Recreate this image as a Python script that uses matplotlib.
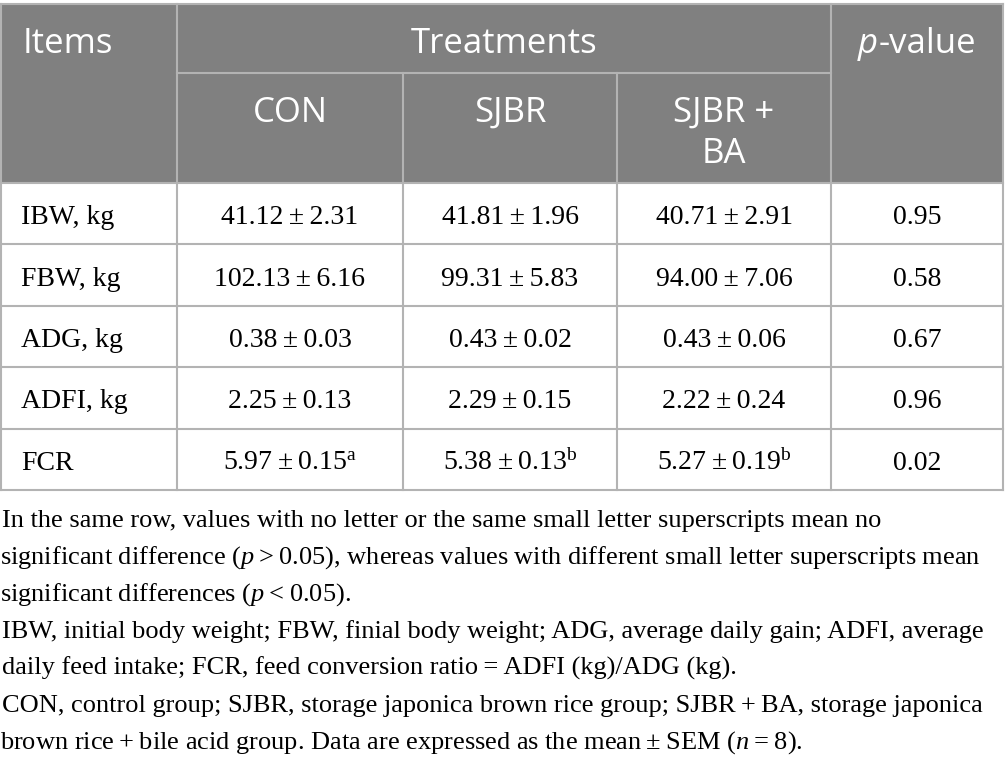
import numpy as np
import matplotlib
matplotlib.use("Agg")
import matplotlib.pyplot as plt
from matplotlib.patches import Rectangle

plt.rcParams['mathtext.fontset'] = 'custom'
plt.rcParams['mathtext.rm'] = 'Liberation Serif'
plt.rcParams['mathtext.it'] = 'Liberation Serif:italic'

# %% data
items      = ["IBW, kg", "FBW, kg", "ADG, kg", "ADFI, kg", "FCR"]
groups     = ["CON", "SJBR", "SJBR +\nBA"]
con_mean   = [41.12, 102.13, 0.38, 2.25, 5.97]
con_sem    = [2.31, 6.16, 0.03, 0.13, 0.15]
con_sup    = ["", "", "", "", "a"]
sjbr_mean  = [41.81, 99.31, 0.43, 2.29, 5.38]
sjbr_sem   = [1.96, 5.83, 0.02, 0.15, 0.13]
sjbr_sup   = ["", "", "", "", "b"]
ba_mean    = [40.71, 94.00, 0.43, 2.22, 5.27]
ba_sem     = [2.91, 7.06, 0.06, 0.24, 0.19]
ba_sup     = ["", "", "", "", "b"]
p_values   = [0.95, 0.58, 0.67, 0.96, 0.02]

notes = [
    "In the same row, values with no letter or the same small letter superscripts mean no",
    "significant difference ($\\mathit{p}$\u2009>\u20090.05), whereas values with different small letter superscripts mean",
    "significant differences ($\\mathit{p}$\u2009<\u20090.05).",
    "IBW, initial body weight; FBW, finial body weight; ADG, average daily gain; ADFI, average",
    "daily feed intake; FCR, feed conversion ratio\u2009=\u2009ADFI (kg)/ADG (kg).",
    "CON, control group; SJBR, storage japonica brown rice group; SJBR\u2009+\u2009BA, storage japonica",
    "brown rice\u2009+\u2009bile acid group. Data are expressed as the mean\u2009\u00b1\u2009SEM ($\\mathit{n}$\u2009=\u20098).",
]

# %% layout (pixels)
W, H = 1005, 767
col_x = [1, 177, 403, 617, 831, 1003]
top, tier, head_bot = 4, 73, 183
row_h = 61.4
n_rows = len(items)
row_y = [head_bot + i * row_h for i in range(n_rows + 1)]

head_bg = '#808080'
line_c = '#b3b3b3'
sans = 'Open Sans'
serif = 'Liberation Serif'

fig = plt.figure(figsize=(W / 100, H / 100), dpi=100)
ax = fig.add_axes([0, 0, 1, 1])
ax.set_xlim(0, W)
ax.set_ylim(H, 0)
ax.axis('off')

# header background
ax.add_patch(Rectangle((0, top), col_x[-1], head_bot - top, color=head_bg, lw=0))

# grid lines
lw = 1.5
ax.plot([0, col_x[-1]], [top, top], color=line_c, lw=lw)
ax.plot([col_x[1], col_x[4]], [tier, tier], color=line_c, lw=lw)
for y in row_y:
    ax.plot([0, col_x[-1]], [y, y], color=line_c, lw=lw)
for x in [col_x[0], col_x[1], col_x[4], col_x[5]]:
    ax.plot([x, x], [top, row_y[-1]], color=line_c, lw=lw)
for x in [col_x[2], col_x[3]]:
    ax.plot([x, x], [tier, row_y[-1]], color=line_c, lw=lw)

# header text
hs = 25
hw = 'normal'
ax.text(23, 53, "Items", fontsize=hs, family=sans, weight=hw, color='white', va='baseline', ha='left')
ax.text((col_x[1] + col_x[4]) / 2, 53, "Treatments", fontsize=hs, family=sans, weight=hw,
        color='white', va='baseline', ha='center')
for i, g in enumerate(groups):
    cx = (col_x[i + 1] + col_x[i + 2]) / 2
    for j, part in enumerate(g.split("\n")):
        ax.text(cx, 122 + 41 * j, part, fontsize=hs, family=sans, weight=hw, color='white',
                va='baseline', ha='center')

# p-value header: italic p + regular rest, centred together
renderer = fig.canvas.get_renderer()
runs = [("p", dict(style='italic')), ("-value", dict())]
txts = [ax.text(0, 53, s, fontsize=hs, family=sans, weight=hw, color='white',
                va='baseline', ha='left', **kw)
        for s, kw in runs]
widths = [t.get_window_extent(renderer).width for t in txts]
cur = (col_x[4] + col_x[5]) / 2 - sum(widths) / 2
for t, w in zip(txts, widths):
    t.set_x(cur)
    cur += w

# body
bs = 20
cols = [(con_mean, con_sem, con_sup), (sjbr_mean, sjbr_sem, sjbr_sup), (ba_mean, ba_sem, ba_sup)]
for r in range(n_rows):
    yb = (row_y[r] + row_y[r + 1]) / 2 + 10.5
    ax.text(21, yb, items[r], fontsize=bs, family=serif, va='baseline', ha='left')
    for c, (m, s, sup) in enumerate(cols):
        cx = (col_x[c + 1] + col_x[c + 2]) / 2
        label = f"{m[r]:.2f}\u2009\u00b1\u2009{s[r]:.2f}"
        if sup[r]:
            label += "$^{\\mathrm{" + sup[r] + "}}$"
        ax.text(cx, yb, label, fontsize=bs, family=serif, va='baseline', ha='center')
    ax.text((col_x[4] + col_x[5]) / 2, yb, f"{p_values[r]:.2f}", fontsize=bs, family=serif,
            va='baseline', ha='center')

# footnotes
fs = 19
for i, line in enumerate(notes):
    x0 = 0 if '$' in line else 2
    ax.text(x0, 527 + 37 * i, line, fontsize=fs, family=serif, va='baseline', ha='left')

fig.savefig("out.png", dpi=100)
